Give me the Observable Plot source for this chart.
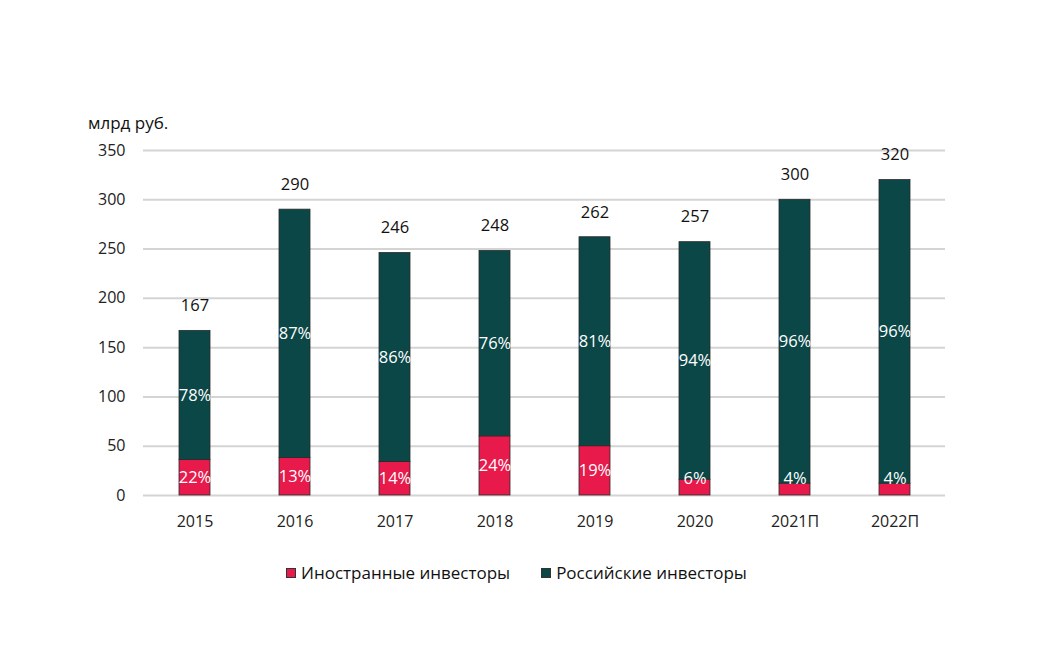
<!DOCTYPE html>
<html>
<head>
<meta charset="utf-8">
<script src="https://cdn.jsdelivr.net/npm/d3@7"></script>
<script src="https://cdn.jsdelivr.net/npm/@observablehq/plot@0.6"></script>
<style>
  html, body { margin: 0; padding: 0; background: #fff; }
  body { width: 1044px; height: 661px; position: relative; font-family: "Open Sans", "Noto Sans", sans-serif; }
  #chart { position: absolute; left: 0; top: 0; }
  #unit { position: absolute; left: 88px; top: 111px; font-size: 17px; color: #111; }
  #legend { position: absolute; left: 286px; top: 561px; display: flex; font-size: 17px; color: #111; }
  .item { display: flex; align-items: center; margin-right: 31px; }
  .sw { width: 10px; height: 10px; margin-right: 5px; border: 1px solid #333; box-sizing: border-box; }
</style>
</head>
<body>
<div id="chart"></div>
<div id="unit">млрд руб.</div>
<div id="legend"></div>
<script>
const years = ["2015", "2016", "2017", "2018", "2019", "2020", "2021П", "2022П"];
const totals = [167, 290, 246, 248, 262, 257, 300, 320];
const foreign = [36, 38, 34, 60, 50, 16, 12, 12];
const foreignPct = ["22%", "13%", "14%", "24%", "19%", "6%", "4%", "4%"];
const russianPct = ["78%", "87%", "86%", "76%", "81%", "94%", "96%", "96%"];
const seriesNames = ["Иностранные инвесторы", "Российские инвесторы"];
const colors = ["#e8194b", "#0b4747"];
const yTicks = [0, 50, 100, 150, 200, 250, 300, 350];

const rows = [];
years.forEach((y, i) => {
  rows.push({year: y, series: seriesNames[0], y1: 0, y2: foreign[i], label: foreignPct[i], ly: Math.max(foreign[i] / 2, 17)});
  rows.push({year: y, series: seriesNames[1], y1: foreign[i], y2: totals[i], label: russianPct[i], ly: (foreign[i] + totals[i]) / 2});
});
const tot = years.map((y, i) => ({year: y, total: totals[i]}));

const chart = Plot.plot({
  width: 1044,
  height: 550,
  marginTop: 150,
  marginBottom: 55,
  marginLeft: 143,
  marginRight: 99,
  style: {fontFamily: "'Open Sans', 'Noto Sans', sans-serif", fontSize: "16px", color: "#222"},
  x: {domain: years, paddingInner: 0.69, paddingOuter: 0.345, label: null},
  y: {domain: [0, 350], label: null},
  color: {domain: seriesNames, range: colors},
  marks: [
    Plot.gridY(yTicks, {stroke: "#d4d4d4", strokeOpacity: 1, strokeWidth: 2}),
    Plot.axisX({tickSize: 0, tickPadding: 20, fontSize: 16, fill: "#222"}),
    Plot.axisY(yTicks, {tickSize: 0, tickPadding: 18, fontSize: 16, fill: "#222"}),
    Plot.rectY(rows, {x: "year", y1: "y1", y2: "y2", fill: "series", stroke: "#2a2a2a", strokeWidth: 0.8}),
    Plot.text(rows, {x: "year", y: "ly", text: "label", fill: "white", fontSize: 16.5}),
    Plot.text(tot, {x: "year", y: "total", text: d => String(d.total), dy: -25, fontSize: 16.5, fill: "#111"})
  ]
});
document.getElementById("chart").appendChild(chart);

const legend = document.getElementById("legend");
seriesNames.forEach((n, i) => {
  const it = document.createElement("div");
  it.className = "item";
  const sw = document.createElement("div");
  sw.className = "sw";
  sw.style.background = colors[i];
  it.appendChild(sw);
  it.appendChild(document.createTextNode(n));
  legend.appendChild(it);
});
</script>
</body>
</html>
